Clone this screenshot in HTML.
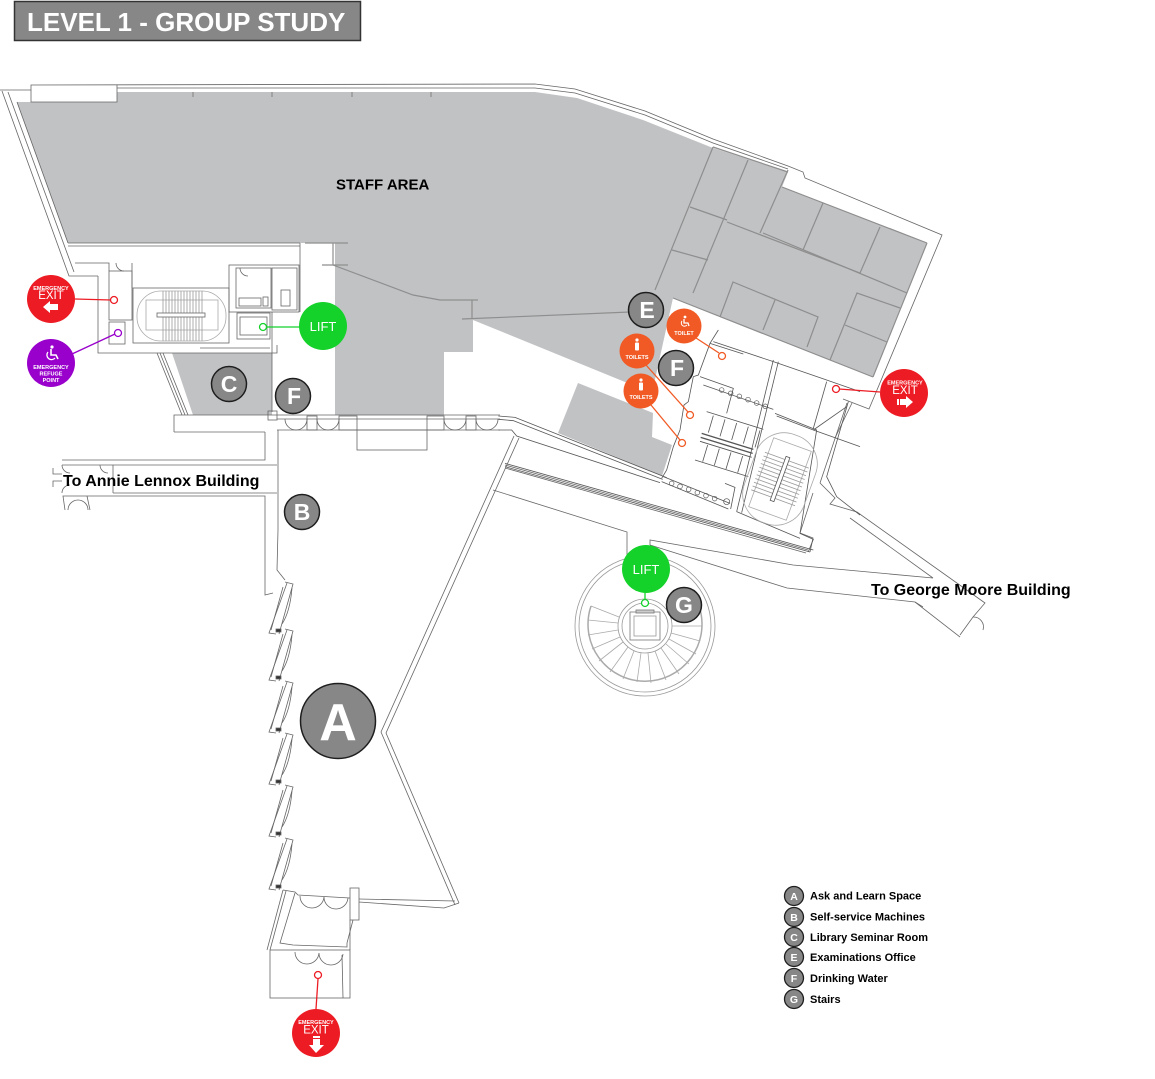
<!DOCTYPE html>
<html><head><meta charset="utf-8"><style>
html,body{margin:0;padding:0;background:#fff;}
svg{display:block;font-family:"Liberation Sans",Arial,sans-serif;}
</style></head><body>
<svg xmlns="http://www.w3.org/2000/svg" width="1155" height="1079" viewBox="0 0 1155 1079">
<rect width="1155" height="1079" fill="#fff"/>

<!-- Title -->
<rect x="14.5" y="1.5" width="346" height="39" fill="#878787" stroke="#333" stroke-width="1.5"/>
<text x="27" y="31" font-size="26" font-weight="bold" fill="#fff">LEVEL 1 - GROUP STUDY</text>

<!-- gray areas -->
<polygon fill="#c1c2c4" points="17,102 117,102 117,92 535,92 577,98 643,120 713,148 788,172 782,187 927,243 873,377 673,298 652,393 473,320 473,352 444,352 444,415 335,415 335,243 68,243"/>
<polygon fill="#c1c2c4" points="172,353 272,353 272,415 193,415"/>
<polygon fill="#c1c2c4" points="578,383 653,413 652,437 672,445 662,476 558,433"/>

<!-- gray interior walls -->
<g stroke="#8e8e8e" stroke-width="1.2" fill="none">
<polyline points="333,243 333,265 413,295 440,300 478,300"/>
<line x1="305" y1="243" x2="348" y2="243"/>
<line x1="322" y1="265" x2="348" y2="265"/>
<line x1="472" y1="300" x2="472" y2="319"/>
<line x1="462" y1="319" x2="630" y2="312"/>
<line x1="713" y1="147" x2="655" y2="290"/>
<line x1="748" y1="160" x2="693" y2="293"/>
<line x1="788" y1="170" x2="760" y2="233"/>
<line x1="690" y1="207" x2="727" y2="220"/>
<line x1="672" y1="250" x2="708" y2="260"/>
<line x1="727" y1="222" x2="860" y2="273"/>
<line x1="763" y1="233" x2="907" y2="293"/>
<line x1="823" y1="203" x2="803" y2="250"/>
<line x1="880" y1="227" x2="860" y2="273"/>
<polyline points="720,317 733,282 818,317 807,347"/>
<line x1="775" y1="300" x2="763" y2="330"/>
<polyline points="830,360 857,293 900,308"/>
<line x1="845" y1="325" x2="887" y2="342"/>
<line x1="673" y1="298" x2="873" y2="377"/>
<line x1="927" y1="243" x2="873" y2="377"/>
<line x1="713" y1="147" x2="788" y2="172"/>
<line x1="782" y1="187" x2="927" y2="243"/>
<line x1="193" y1="92" x2="193" y2="97"/>
<line x1="272" y1="92" x2="272" y2="97"/>
<line x1="352" y1="92" x2="352" y2="97"/>
<line x1="431" y1="92" x2="431" y2="97"/>
</g>

<!-- building walls -->
<g stroke="#666" stroke-width="0.8" fill="none">
<polyline points="0,90 31,90 31,85 535,84 575,89 645,111 713,139 788,166 803,172 805,178 942,235 869,409 843,399"/>
<polyline points="117,88 535,88 575,93 645,115 713,143 788,169"/>
<polyline points="31,90 31,102 117,102 117,85"/>
<polyline points="2,91 69,276 98,276"/>
<line x1="8" y1="92" x2="74" y2="272"/>
<line x1="17" y1="102" x2="68" y2="243"/>

<!-- left core -->
<line x1="68" y1="243" x2="300" y2="243"/>
<line x1="68" y1="246" x2="300" y2="246"/>
<polyline points="75,263 109,263 109,271"/>
<polyline points="98,276 98,353 277,353 277,345"/>
<rect x="109" y="271" width="23" height="49"/>
<rect x="109" y="322" width="16" height="22"/>
<line x1="132" y1="263" x2="132" y2="288"/>
<rect x="133" y="288" width="96" height="55"/>
<rect x="137" y="291" width="89" height="50" rx="24" stroke="#aaa"/>
<rect x="146" y="300" width="72" height="30" stroke="#aaa"/>
<g stroke="#999">
<line x1="163" y1="291" x2="163" y2="341"/><line x1="166" y1="291" x2="166" y2="341"/><line x1="169" y1="291" x2="169" y2="341"/><line x1="172" y1="291" x2="172" y2="341"/><line x1="175" y1="291" x2="175" y2="341"/><line x1="178" y1="291" x2="178" y2="341"/><line x1="181" y1="291" x2="181" y2="341"/><line x1="184" y1="291" x2="184" y2="341"/><line x1="187" y1="291" x2="187" y2="341"/><line x1="190" y1="291" x2="190" y2="341"/><line x1="193" y1="291" x2="193" y2="341"/><line x1="196" y1="291" x2="196" y2="341"/><line x1="199" y1="291" x2="199" y2="341"/><line x1="202" y1="291" x2="202" y2="341"/>
</g>
<rect x="157" y="313" width="48" height="4" fill="#fff"/>
<rect x="229" y="265" width="70" height="47"/>
<rect x="236" y="268" width="35" height="40"/>
<rect x="272" y="268" width="25" height="42"/>
<rect x="239" y="298" width="22" height="8"/>
<rect x="263" y="297" width="5" height="9"/>
<rect x="281" y="290" width="9" height="16"/>
<rect x="237" y="313" width="33" height="26"/>
<rect x="240" y="317" width="27" height="18"/>
<line x1="300" y1="243" x2="300" y2="312"/>
<line x1="272" y1="312" x2="272" y2="412"/>
<rect x="268" y="411" width="9" height="9"/>
<line x1="200" y1="348" x2="270" y2="348"/>
<path d="M116,263 A8,8 0 0 0 124,271"/>
<path d="M240,268 A8,8 0 0 0 248,276"/>
<line x1="157" y1="353" x2="182" y2="415"/>
<line x1="160" y1="353" x2="185" y2="415"/>
<line x1="163" y1="353" x2="188" y2="415"/>

<!-- corridor strip -->
<polyline points="174,432 174,415 500,415"/>
<line x1="277" y1="419" x2="500" y2="419"/>
<line x1="277" y1="430" x2="500" y2="430"/>
<line x1="174" y1="432" x2="265" y2="432"/>
<rect x="357" y="430" width="70" height="20"/>
<rect x="307" y="416" width="10" height="14"/>
<rect x="339" y="416" width="18" height="14"/>
<rect x="427" y="416" width="17" height="14"/>
<rect x="466" y="416" width="10" height="14"/>
<path d="M285,419 A11,11 0 0 0 296,430 M307,419 A11,11 0 0 1 296,430"/>
<path d="M317,419 A11,11 0 0 0 328,430 M339,419 A11,11 0 0 1 328,430"/>
<path d="M444,419 A11,11 0 0 0 455,430 M466,419 A11,11 0 0 1 455,430"/>
<path d="M476,419 A11,11 0 0 0 487,430 M498,419 A11,11 0 0 1 487,430"/>

<!-- Annie Lennox corridor -->
<polyline points="62,460 265,460 265,432"/>
<line x1="62" y1="465" x2="277" y2="465"/>
<line x1="113" y1="493" x2="277" y2="493"/>
<line x1="113" y1="465" x2="113" y2="493"/>
<polyline points="65,510 63,496 265,496 265,595 273,593"/>
<polyline points="90,510 87,496"/>
<polyline points="53,468 53,474 62,474"/>
<polyline points="53,487 53,481 62,481"/>
<path d="M62,465 A8,8 0 0 0 70,473 M62,493 A8,8 0 0 1 70,485"/>
<path d="M68,510 A10,10 0 0 1 78,500 M88,510 A10,10 0 0 0 78,500"/>
<path d="M100,465 A8,8 0 0 0 108,473"/>

<!-- A walls -->
<polyline points="278,430 278,530 277,570 285,580"/>
<polyline points="514,436 381,732 455,905"/>
<polyline points="519,438 386,733 459,903"/>
<polyline points="459,903 444,908 359,902"/>
<line x1="359" y1="899" x2="455" y2="901"/>
<rect x="350" y="888" width="9" height="32"/>
</g>

<!-- window bays -->
<g stroke="#666" stroke-width="0.8" fill="none">
<g id="bay1">
<polyline points="285,582 293,584 279,634"/>
<polyline points="287,583 269,633 276,634"/>
<line x1="283" y1="587" x2="271" y2="630"/>
<path d="M292,588 Q290,612 282,624"/>
<rect x="276" y="629" width="5" height="3" fill="#333"/>
</g>
<g transform="translate(0,47)"><polyline points="285,582 293,584 279,634"/><polyline points="287,583 269,633 276,634"/><line x1="283" y1="587" x2="271" y2="630"/><path d="M292,588 Q290,612 282,624"/><rect x="276" y="629" width="5" height="3" fill="#333"/></g>
<g transform="translate(0,99)"><polyline points="285,582 293,584 279,634"/><polyline points="287,583 269,633 276,634"/><line x1="283" y1="587" x2="271" y2="630"/><path d="M292,588 Q290,612 282,624"/><rect x="276" y="629" width="5" height="3" fill="#333"/></g>
<g transform="translate(0,151)"><polyline points="285,582 293,584 279,634"/><polyline points="287,583 269,633 276,634"/><line x1="283" y1="587" x2="271" y2="630"/><path d="M292,588 Q290,612 282,624"/><rect x="276" y="629" width="5" height="3" fill="#333"/></g>
<g transform="translate(0,203)"><polyline points="285,582 293,584 279,634"/><polyline points="287,583 269,633 276,634"/><line x1="283" y1="587" x2="271" y2="630"/><path d="M292,588 Q290,612 282,624"/><rect x="276" y="629" width="5" height="3" fill="#333"/></g>
<g transform="translate(0,256)"><polyline points="285,582 293,584 279,634"/><polyline points="287,583 269,633 276,634"/><line x1="283" y1="587" x2="271" y2="630"/><path d="M292,588 Q290,612 282,624"/><rect x="276" y="629" width="5" height="3" fill="#333"/></g>

<!-- vestibule -->
<polyline points="283,890 295,892 298,895 350,898"/>
<polyline points="283,890 267,950"/>
<polyline points="286,891 270,950"/>
<polyline points="295,893 280,943 293,945 347,947 347,943 353,920"/>
<path d="M300,896 A12,12 0 0 0 312,908 M324,897 A12,12 0 0 1 312,908 M324,897 A12,12 0 0 0 336,909 M348,898 A12,12 0 0 1 336,909"/>
<rect x="270" y="950" width="80" height="48"/>
<line x1="342" y1="955" x2="343" y2="998"/>
<line x1="350" y1="920" x2="350" y2="950"/>
<path d="M295,952 A12,12 0 0 0 307,964 M319,953 A12,12 0 0 1 307,964 M319,953 A12,12 0 0 0 331,965 M343,954 A12,12 0 0 1 331,965"/>
</g>

<!-- George Moore corridor and right side -->
<g stroke="#666" stroke-width="0.8" fill="none">
<line x1="505" y1="465" x2="808" y2="550"/>
<line x1="505" y1="468" x2="806" y2="553"/>
<polyline points="493,490 627,532 627,557"/>
<polyline points="650,545 650,540 793,565 933,578"/>
<polyline points="650,545 787,588 915,602 960,637"/>
<polyline points="820,483 835,498 830,504 857,512 985,603 973,617 960,635"/>
<polyline points="850,518 933,578"/>
<polyline points="915,602 923,607"/>
<path d="M973,617 A10,10 0 0 1 983,630"/>
<line x1="847" y1="403" x2="820" y2="483"/>
<line x1="852" y1="403" x2="835" y2="438"/>
<polyline points="813,493 800,533 813,538 810,552"/>
</g>

<!-- toilet block / stair core traced in zoom coords -->
<g transform="translate(480,330) scale(0.33333)" stroke="#555" stroke-width="2.4" fill="none">
<polyline points="55,258 105,262 560,443"/>
<polyline points="55,268 100,272 548,448"/>
<polyline points="55,300 95,300 110,318 540,458"/>
<line x1="75" y1="400" x2="1000" y2="660"/>
<line x1="75" y1="410" x2="990" y2="666"/>
<polyline points="715,0 690,40 655,135 640,140 625,215 612,225 600,300 580,350 560,420 545,445"/>
<polyline points="700,35 880,95 1040,150 1140,185"/>
<polyline points="690,40 790,72"/>
<line x1="880" y1="90" x2="770" y2="545"/>
<line x1="895" y1="95" x2="785" y2="548"/>
<polyline points="660,140 760,175 740,250"/>
<line x1="670" y1="165" x2="880" y2="238"/>
<g stroke-width="2">
<circle cx="725" cy="180" r="7"/><circle cx="752" cy="190" r="7"/><circle cx="778" cy="199" r="7"/><circle cx="804" cy="209" r="7"/><circle cx="830" cy="219" r="7"/><circle cx="856" cy="229" r="7"/>
<circle cx="575" cy="460" r="7"/><circle cx="600" cy="469" r="7"/><circle cx="626" cy="478" r="7"/><circle cx="652" cy="488" r="7"/><circle cx="678" cy="497" r="7"/><circle cx="704" cy="506" r="7"/><circle cx="740" cy="515" r="9"/>
</g>
<line x1="680" y1="245" x2="850" y2="298"/>
<line x1="665" y1="310" x2="820" y2="358" stroke-width="4"/>
<line x1="662" y1="322" x2="818" y2="370" stroke-width="4"/>
<line x1="660" y1="334" x2="815" y2="382" stroke-width="3"/>
<line x1="645" y1="390" x2="805" y2="440"/>
<line x1="700" y1="257" x2="685" y2="308"/><line x1="735" y1="268" x2="720" y2="319"/><line x1="770" y1="279" x2="755" y2="330"/><line x1="805" y1="290" x2="790" y2="341"/><line x1="840" y1="301" x2="825" y2="352"/>
<line x1="683" y1="345" x2="668" y2="395"/><line x1="718" y1="356" x2="703" y2="406"/><line x1="753" y1="367" x2="738" y2="417"/><line x1="788" y1="378" x2="773" y2="428"/>
<line x1="550" y1="440" x2="750" y2="520"/>
<line x1="545" y1="455" x2="745" y2="537"/>
<polyline points="735,460 765,472 752,537"/>
<polyline points="885,250 1010,300 960,610 1000,628 985,665"/>
<line x1="770" y1="545" x2="960" y2="625"/>
<g transform="translate(900,447) rotate(20)">
<rect x="-95" y="-140" width="190" height="280" rx="90" stroke="#aaa"/>
<rect x="-60" y="-110" width="120" height="220" stroke="#aaa"/>
<g stroke="#999">
<line x1="-70" y1="-60" x2="70" y2="-60"/><line x1="-70" y1="-48" x2="70" y2="-48"/><line x1="-70" y1="-36" x2="70" y2="-36"/><line x1="-70" y1="-24" x2="70" y2="-24"/><line x1="-70" y1="-12" x2="70" y2="-12"/><line x1="-70" y1="0" x2="70" y2="0"/><line x1="-70" y1="12" x2="70" y2="12"/><line x1="-70" y1="24" x2="70" y2="24"/><line x1="-70" y1="36" x2="70" y2="36"/><line x1="-70" y1="48" x2="70" y2="48"/><line x1="-70" y1="60" x2="70" y2="60"/>
</g>
<rect x="-6" y="-70" width="12" height="140" fill="#fff" stroke="#555"/>
</g>
<line x1="1040" y1="155" x2="1000" y2="295"/>
<polyline points="890,258 1000,300 1140,350"/>
<polyline points="1105,215 1040,440 1070,500 1140,555"/>
<line x1="1000" y1="300" x2="1100" y2="230"/>
</g>

<!-- round stair G -->
<g stroke="#999" stroke-width="0.8" fill="none">
<circle cx="645" cy="626" r="70"/>
<circle cx="645" cy="626" r="66"/>
<path d="M591,606 A57,57 0 1 0 699,606" stroke="#aaa" stroke-width="1.5"/>
<circle cx="645" cy="626" r="27"/>
<circle cx="645" cy="626" r="23"/>
<g stroke="#aaa">
<line x1="671" y1="619" x2="700" y2="611"/><line x1="672" y1="626" x2="702" y2="626"/><line x1="671" y1="633" x2="700" y2="641"/><line x1="669" y1="639" x2="696" y2="654"/><line x1="666" y1="644" x2="689" y2="664"/><line x1="661" y1="648" x2="679" y2="674"/><line x1="655" y1="651" x2="666" y2="680"/><line x1="648" y1="653" x2="651" y2="683"/><line x1="641" y1="653" x2="637" y2="682"/><line x1="634" y1="651" x2="623" y2="679"/><line x1="628" y1="647" x2="610" y2="672"/><line x1="623" y1="642" x2="599" y2="661"/><line x1="620" y1="637" x2="592" y2="649"/><line x1="618" y1="630" x2="588" y2="635"/><line x1="618" y1="623" x2="588" y2="620"/><line x1="619" y1="617" x2="591" y2="606"/>
</g>
<rect x="630" y="612" width="30" height="28" stroke="#777"/>
<rect x="634" y="616" width="22" height="20" stroke="#999"/>
<rect x="636" y="610" width="18" height="3" fill="#ccc" stroke="#777"/>
</g>

<!-- connectors -->
<g stroke-width="1.3" fill="#fff">
<line x1="75" y1="299" x2="111" y2="300" stroke="#ed1c24"/>
<circle cx="114" cy="300" r="3.5" stroke="#ed1c24"/>
<line x1="72" y1="354" x2="115" y2="334" stroke="#9900cc"/>
<circle cx="118" cy="333" r="3.5" stroke="#9900cc"/>
<line x1="266" y1="327" x2="300" y2="327" stroke="#14d22a"/>
<circle cx="263" cy="327" r="3.5" stroke="#14d22a"/>
<line x1="645" y1="593" x2="645" y2="600" stroke="#14d22a"/>
<circle cx="645" cy="603" r="3.5" stroke="#14d22a"/>
<line x1="696" y1="338" x2="719" y2="353" stroke="#f15a24"/>
<circle cx="722" cy="356" r="3.5" stroke="#f15a24"/>
<line x1="646" y1="365" x2="688" y2="412" stroke="#f15a24"/>
<circle cx="690" cy="415" r="3.5" stroke="#f15a24"/>
<line x1="651" y1="405" x2="680" y2="440" stroke="#f15a24"/>
<circle cx="682" cy="443" r="3.5" stroke="#f15a24"/>
<line x1="880" y1="392" x2="839" y2="389" stroke="#ed1c24"/>
<circle cx="836" cy="389" r="3.5" stroke="#ed1c24"/>
<line x1="318" y1="979" x2="316" y2="1009" stroke="#ed1c24"/>
<circle cx="318" cy="975" r="3.5" stroke="#ed1c24"/>
</g>

<!-- emergency exits -->
<g font-weight="bold" text-anchor="middle" fill="#fff">
<circle cx="51" cy="299" r="24" fill="#ed1c24"/>
<text x="51" y="290" font-size="5.5">EMERGENCY</text>
<text x="51" y="299" font-size="11.5" font-weight="normal">EXIT</text>
<polygon points="43,307 50,301 50,304 58,304 58,310 50,310 50,313"/>

<circle cx="904" cy="393" r="24" fill="#ed1c24"/>
<text x="905" y="384.5" font-size="5.5">EMERGENCY</text>
<text x="905" y="394" font-size="11.5" font-weight="normal">EXIT</text>
<polygon points="913,402 906,396 906,399 900,399 900,405 906,405 906,408"/>
<rect x="897" y="399" width="2" height="6"/>

<circle cx="316" cy="1033" r="24" fill="#ed1c24"/>
<text x="316" y="1024" font-size="5.5">EMERGENCY</text>
<text x="316" y="1033.5" font-size="11.5" font-weight="normal">EXIT</text>
<polygon points="316,1053 309,1045 313,1045 313,1039 320,1039 320,1045 324,1045"/>
<rect x="313" y="1036" width="7" height="2"/>

<circle cx="51" cy="363" r="24" fill="#9900cc"/>
<circle cx="52" cy="347" r="1.6"/>
<path d="M51,349 L51,355 L56,355 L58,359" stroke="#fff" stroke-width="1.6" fill="none"/>
<path d="M48,352 A4,4 0 1 0 55,358" stroke="#fff" stroke-width="1.3" fill="none"/>
<text x="51" y="369" font-size="5.5">EMERGENCY</text>
<text x="51" y="375.5" font-size="5.5">REFUGE</text>
<text x="51" y="382" font-size="5.5">POINT</text>
</g>

<!-- lifts -->
<g fill="#fff" text-anchor="middle">
<circle cx="323" cy="326" r="24" fill="#14d22a"/>
<text x="323" y="331" font-size="13">LIFT</text>
<circle cx="646" cy="569" r="24" fill="#14d22a"/>
<text x="646" y="574" font-size="13">LIFT</text>
</g>

<!-- toilets -->
<g fill="#fff" text-anchor="middle" font-weight="bold" font-size="5.5">
<circle cx="684" cy="326" r="17.5" fill="#f15a24"/>
<circle cx="685" cy="317" r="1.4"/>
<path d="M684,319 L684,323 L688,323 L689,326" stroke="#fff" stroke-width="1.3" fill="none"/>
<path d="M682,321 A3,3 0 1 0 687,325" stroke="#fff" stroke-width="1" fill="none"/>
<text x="684" y="335">TOILET</text>

<circle cx="637" cy="351" r="17.5" fill="#f15a24"/>
<circle cx="637" cy="340" r="1.6"/>
<rect x="635" y="342.5" width="4" height="8" rx="1"/>
<text x="637" y="359">TOILETS</text>

<circle cx="641" cy="391" r="17.5" fill="#f15a24"/>
<circle cx="641" cy="380" r="1.6"/>
<rect x="639" y="382.5" width="4" height="8" rx="1"/>
<text x="641" y="399">TOILETS</text>
</g>

<!-- letter markers -->
<g fill="#878787" stroke="#1e1e1e" stroke-width="1.5">
<circle cx="229" cy="384" r="17.5"/>
<circle cx="293" cy="396" r="17.5"/>
<circle cx="646" cy="310" r="17.5"/>
<circle cx="676" cy="368" r="17.5"/>
<circle cx="302" cy="512" r="17.5"/>
<circle cx="684" cy="605" r="17.5"/>
<circle cx="338" cy="721" r="37.5"/>
</g>
<g fill="#fff" font-weight="bold" text-anchor="middle" font-size="23">
<text x="229" y="392">C</text>
<text x="294" y="404">F</text>
<text x="647" y="318">E</text>
<text x="677" y="376">F</text>
<text x="302" y="520">B</text>
<text x="684" y="613">G</text>
<text x="338" y="740" font-size="52">A</text>
</g>

<!-- labels -->
<g font-weight="bold" fill="#000">
<text x="336" y="189.5" font-size="15">STAFF AREA</text>
<text x="63" y="486" font-size="16">To Annie Lennox Building</text>
<text x="871" y="595" font-size="16">To George Moore Building</text>
</g>

<!-- legend -->
<g fill="#878787" stroke="#1e1e1e" stroke-width="1.3">
<circle cx="794" cy="896" r="9.5"/>
<circle cx="794" cy="917" r="9.5"/>
<circle cx="794" cy="937" r="9.5"/>
<circle cx="794" cy="957" r="9.5"/>
<circle cx="794" cy="978" r="9.5"/>
<circle cx="794" cy="999" r="9.5"/>
</g>
<g fill="#fff" font-weight="bold" font-size="10.5" text-anchor="middle">
<text x="794" y="900">A</text>
<text x="794" y="921">B</text>
<text x="794" y="941">C</text>
<text x="794" y="961">E</text>
<text x="794" y="982">F</text>
<text x="794" y="1003">G</text>
</g>
<g fill="#000" font-weight="bold" font-size="11">
<text x="810" y="899.5">Ask and Learn Space</text>
<text x="810" y="920.5">Self-service Machines</text>
<text x="810" y="941">Library Seminar Room</text>
<text x="810" y="961">Examinations Office</text>
<text x="810" y="982">Drinking Water</text>
<text x="810" y="1003">Stairs</text>
</g>
</svg>
</body></html>
